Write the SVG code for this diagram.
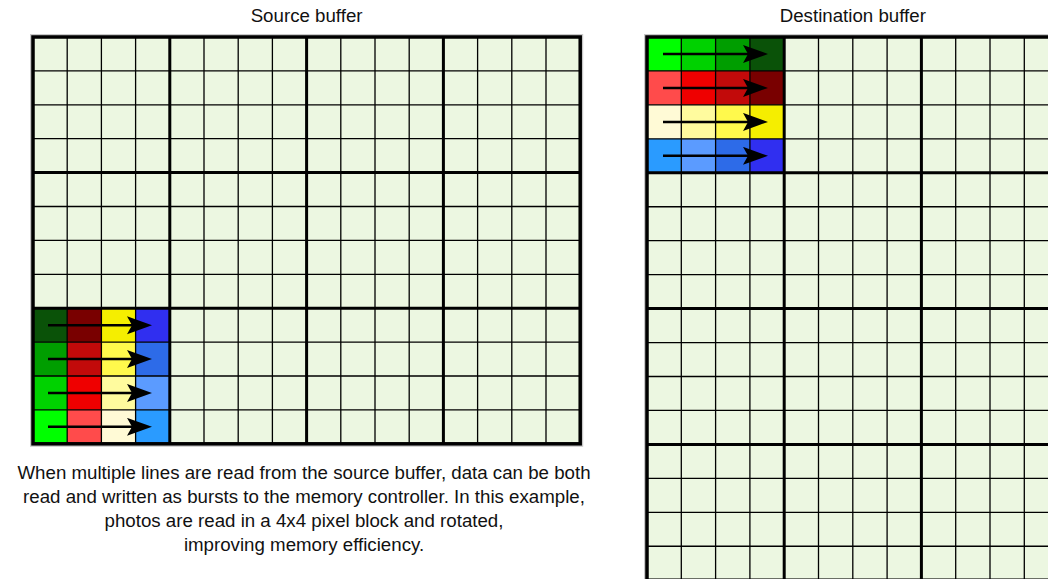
<svg xmlns="http://www.w3.org/2000/svg" width="1048" height="579" viewBox="0 0 1048 579">
<style>
.bg{fill:#ecf7e1;}
.thin{stroke:#000;stroke-width:1.3;fill:none;}
.thick{stroke:#000;stroke-width:3;fill:none;}
.border{stroke:#000;stroke-width:3.5;fill:none;}
.halo{stroke:#c8c8c8;stroke-width:6;fill:none;}
.title{font-family:"Liberation Sans",Arial,Helvetica,sans-serif;font-size:18.7px;fill:#111;text-anchor:middle;}
.para{font-family:"Liberation Sans",Arial,Helvetica,sans-serif;font-size:18.7px;fill:#111;text-anchor:middle;}
.arrow{stroke:#000;stroke-width:2.5;fill:none;marker-end:url(#ah);}
</style>
<defs>
<marker id="ah" markerUnits="userSpaceOnUse" markerWidth="27" markerHeight="19" refX="15" refY="9" orient="auto">
<path d="M0,0 L25,9 L0,18 L5,9 Z" fill="#000"/>
</marker>
</defs>
<rect width="1048" height="579" fill="#fff"/>

<text class="title" x="306.6" y="21.7">Source buffer</text>
<text class="title" x="852.8" y="21.7">Destination buffer</text>

<g id="source-buffer">
<rect class="halo" x="33" y="37" width="547.2" height="406.8"/>
<rect class="bg" x="33" y="37" width="547.2" height="406.8"/>
<g id="source-block">
<rect x="33" y="308.2" width="34.2" height="33.9" fill="#0a5208"/>
<rect x="67.2" y="308.2" width="34.2" height="33.9" fill="#790000"/>
<rect x="101.4" y="308.2" width="34.2" height="33.9" fill="#f5ee00"/>
<rect x="135.6" y="308.2" width="34.2" height="33.9" fill="#302ff0"/>
<rect x="33" y="342.1" width="34.2" height="33.9" fill="#009e00"/>
<rect x="67.2" y="342.1" width="34.2" height="33.9" fill="#c20a0a"/>
<rect x="101.4" y="342.1" width="34.2" height="33.9" fill="#fff94c"/>
<rect x="135.6" y="342.1" width="34.2" height="33.9" fill="#2d6be8"/>
<rect x="33" y="376" width="34.2" height="33.9" fill="#00d200"/>
<rect x="67.2" y="376" width="34.2" height="33.9" fill="#ef0000"/>
<rect x="101.4" y="376" width="34.2" height="33.9" fill="#fffb9e"/>
<rect x="135.6" y="376" width="34.2" height="33.9" fill="#5b9bff"/>
<rect x="33" y="409.9" width="34.2" height="33.9" fill="#00ff00"/>
<rect x="67.2" y="409.9" width="34.2" height="33.9" fill="#ff4b4b"/>
<rect x="101.4" y="409.9" width="34.2" height="33.9" fill="#fffad6"/>
<rect x="135.6" y="409.9" width="34.2" height="33.9" fill="#2a9bff"/>
</g>
<path class="thin" d="M67.2,37V443.8M101.4,37V443.8M135.6,37V443.8M204,37V443.8M238.2,37V443.8M272.4,37V443.8M340.8,37V443.8M375,37V443.8M409.2,37V443.8M477.6,37V443.8M511.8,37V443.8M546,37V443.8M33,70.9H580.2M33,104.8H580.2M33,138.7H580.2M33,206.5H580.2M33,240.4H580.2M33,274.3H580.2M33,342.1H580.2M33,376H580.2M33,409.9H580.2"/>
<path class="thick" d="M169.8,37V443.8M306.6,37V443.8M443.4,37V443.8M33,172.6H580.2M33,308.2H580.2"/>
<rect class="border" x="33" y="37" width="547.2" height="406.8"/>
</g>

<g id="destination-buffer">
<rect class="halo" x="647" y="37" width="411.6" height="543.2"/>
<rect class="bg" x="647" y="37" width="411.6" height="543.2"/>
<g id="destination-block">
<rect x="647" y="37" width="34.3" height="33.95" fill="#00ff00"/>
<rect x="681.3" y="37" width="34.3" height="33.95" fill="#00d200"/>
<rect x="715.6" y="37" width="34.3" height="33.95" fill="#009e00"/>
<rect x="749.9" y="37" width="34.3" height="33.95" fill="#0a5208"/>
<rect x="647" y="70.95" width="34.3" height="33.95" fill="#ff4b4b"/>
<rect x="681.3" y="70.95" width="34.3" height="33.95" fill="#ef0000"/>
<rect x="715.6" y="70.95" width="34.3" height="33.95" fill="#c20a0a"/>
<rect x="749.9" y="70.95" width="34.3" height="33.95" fill="#790000"/>
<rect x="647" y="104.9" width="34.3" height="33.95" fill="#fffad6"/>
<rect x="681.3" y="104.9" width="34.3" height="33.95" fill="#fffb9e"/>
<rect x="715.6" y="104.9" width="34.3" height="33.95" fill="#fff94c"/>
<rect x="749.9" y="104.9" width="34.3" height="33.95" fill="#f5ee00"/>
<rect x="647" y="138.85" width="34.3" height="33.95" fill="#2a9bff"/>
<rect x="681.3" y="138.85" width="34.3" height="33.95" fill="#5b9bff"/>
<rect x="715.6" y="138.85" width="34.3" height="33.95" fill="#2d6be8"/>
<rect x="749.9" y="138.85" width="34.3" height="33.95" fill="#302ff0"/>
</g>
<path class="thin" d="M681.3,37V580.2M715.6,37V580.2M749.9,37V580.2M818.5,37V580.2M852.8,37V580.2M887.1,37V580.2M955.7,37V580.2M990,37V580.2M1024.3,37V580.2M647,70.95H1058.6M647,104.9H1058.6M647,138.85H1058.6M647,206.75H1058.6M647,240.7H1058.6M647,274.65H1058.6M647,342.55H1058.6M647,376.5H1058.6M647,410.45H1058.6M647,478.35H1058.6M647,512.3H1058.6M647,546.25H1058.6"/>
<path class="thick" d="M784.2,37V580.2M921.4,37V580.2M647,172.8H1058.6M647,308.6H1058.6M647,444.4H1058.6"/>
<rect class="border" x="647" y="37" width="411.6" height="543.2"/>
</g>

<g id="connectors">
<line class="arrow" x1="48" y1="325.15" x2="142" y2="325.15"/>
<line class="arrow" x1="48" y1="359.05" x2="142" y2="359.05"/>
<line class="arrow" x1="48" y1="392.95" x2="142" y2="392.95"/>
<line class="arrow" x1="48" y1="426.85" x2="142" y2="426.85"/>
<line class="arrow" x1="663" y1="53.98" x2="758" y2="53.98"/>
<line class="arrow" x1="663" y1="87.93" x2="758" y2="87.93"/>
<line class="arrow" x1="663" y1="121.88" x2="758" y2="121.88"/>
<line class="arrow" x1="663" y1="155.83" x2="758" y2="155.83"/>
</g>

<g id="caption">
<text class="para" x="304" y="479">When multiple lines are read from the source buffer, data can be both</text>
<text class="para" x="304" y="503">read and written as bursts to the memory controller. In this example,</text>
<text class="para" x="304" y="527">photos are read in a 4x4 pixel block and rotated,</text>
<text class="para" x="304" y="551">improving memory efficiency.</text>
</g>
</svg>
